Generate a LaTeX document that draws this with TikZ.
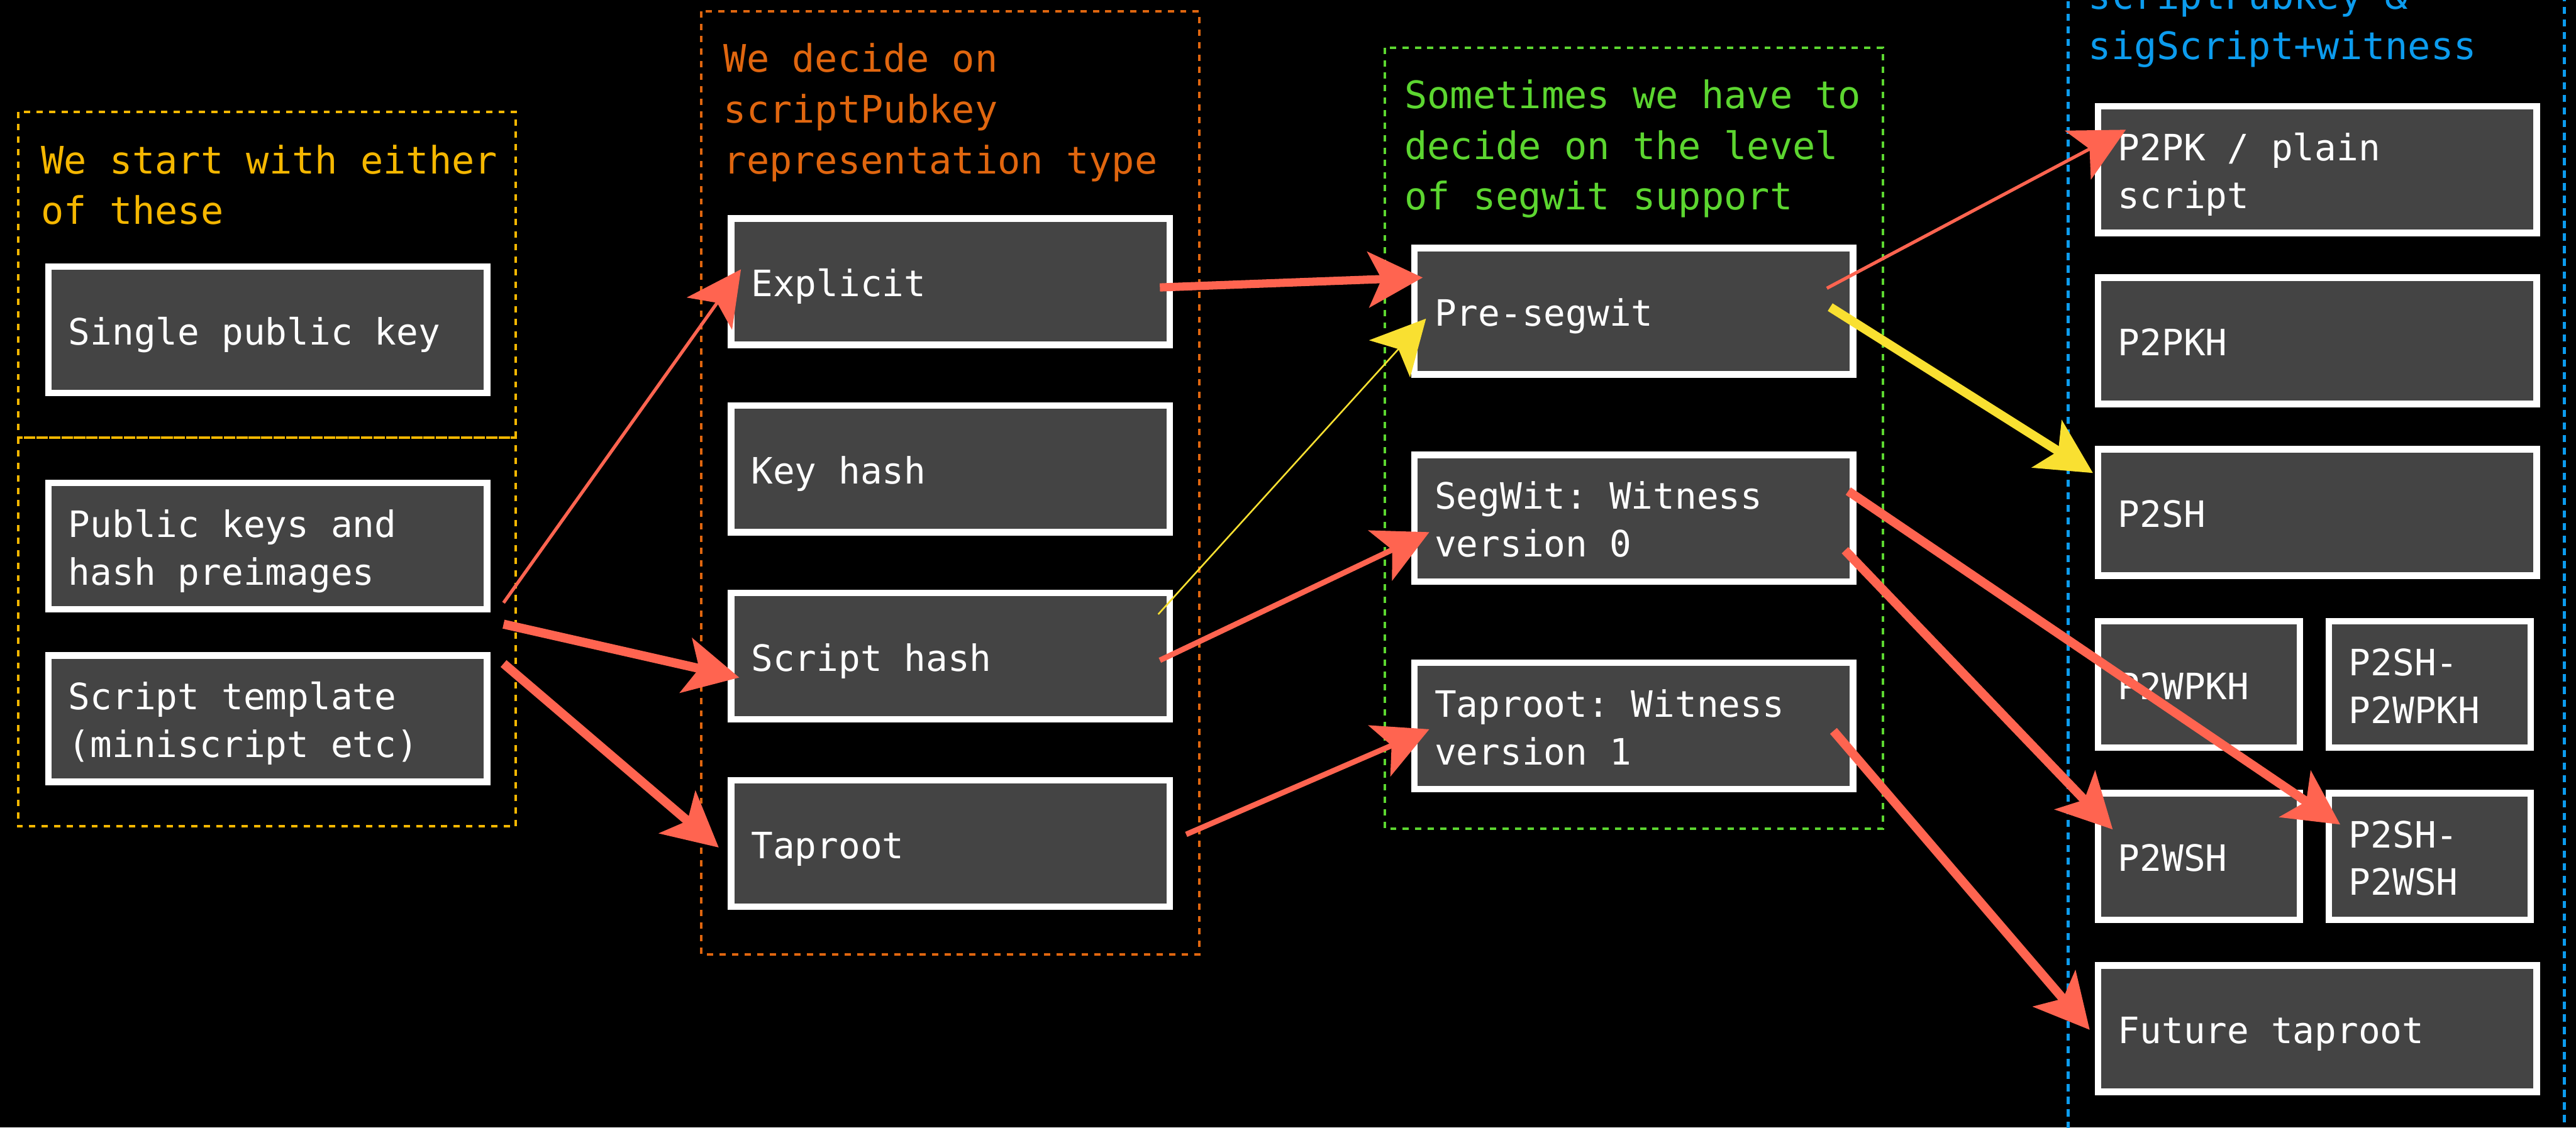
\documentclass[tikz,border=0pt]{standalone}
\usepackage{fontspec}
\setmonofont{DejaVu Sans Mono}
\usetikzlibrary{arrows.meta}
\definecolor{boxgray}{HTML}{444444}
\definecolor{arrred}{HTML}{FF6450}
\definecolor{arryel}{HTML}{F9E031}
\definecolor{gold}{HTML}{F5B700}
\definecolor{orng}{HTML}{E0660F}
\definecolor{grn}{HTML}{5CD630}
\definecolor{blu}{HTML}{0C9CEE}
\newcommand{\boxfont}{\ttfamily\fontsize{18.87pt}{24.75pt}\selectfont}
\newcommand{\titlefont}{\ttfamily\fontsize{19.7pt}{26.33pt}\selectfont}
\newcommand{\bt}[1]{\spaceskip=0pt\xspaceskip=0pt\relax\rule{0pt}{21.47pt}#1\rule[-6pt]{0pt}{6pt}}
\newcommand{\tts}{\rule{0pt}{19.7pt}}
\begin{document}
\begin{tikzpicture}[x=0.03cm,y=-0.03cm,
  box/.style={draw=white, line width=0.12cm, fill=boxgray, text=white, font=\boxfont,
    align=left, inner xsep=0.366cm, inner ysep=0pt, minimum height=2.31cm, text width=7.278cm},
  smallbox/.style={box, text width=2.958cm},
  ttl/.style={anchor=north west, inner sep=0pt, align=left, font=\titlefont},
  frame/.style={line width=0.045cm, dash pattern=on 0.114cm off 0.114cm},
  arr/.style={-{Stealth[length=0.99cm,width=1.01cm,inset=0.24cm]}},
  thickarr/.style={arr, line width=0.165cm},
  medarr/.style={arr, line width=0.1cm},
  thinarr/.style={arr, line width=0.06cm},
  hairarr/.style={arr, line width=0.03cm}
]
\fill[black] (0,0) rectangle (1568,686.55);
\useasboundingbox (0,0) rectangle (1568,686.55);
\clip (0,0) rectangle (1568,686.55);

% group frames
\draw[frame, gold] (11,68) rectangle (314,266.5);
\draw[frame, gold] (11,266.5) rectangle (314,503);
\draw[frame, orng] (427,6.8) rectangle (730,581);
\draw[frame, grn] (843,29) rectangle (1146,504.6);
\draw[frame, blu, line width=0.06cm, dash pattern=on 0.13cm off 0.1cm] (1259,-30) rectangle (1561,720);

% titles
\node[ttl, text=gold] (t1) at (24.7,82.4) {\tts We start with either\\of these};
\node[ttl, text=orng] (t2) at (440.3,20.7) {\tts We decide on\\scriptPubkey\\representation type};
\node[ttl, text=grn] (t3) at (854.7,42.8) {\tts Sometimes we have to\\decide on the level\\of segwit support};
\node[ttl, text=blu] (t4) at (1271,-17.8) {\tts scriptPubkey \&\\sigScript+witness};

% column 1
\node[box] (spk) at (163,200.75) {\bt{Single public key}};
\node[box] (pkh) at (163,332.5) {\bt{Public keys and\\hash preimages}};
\node[box] (st) at (163,437.5) {\bt{Script template\\(miniscript etc)}};

% column 2
\node[box] (expl) at (578.5,171.5) {\bt{Explicit}};
\node[box] (kh) at (578.5,285.5) {\bt{Key hash}};
\node[box] (sh) at (578.5,399.5) {\bt{Script hash}};
\node[box] (tap) at (578.5,513.5) {\bt{Taproot}};

% column 3
\node[box] (pre) at (994.5,189.5) {\bt{Pre-segwit}};
\node[box] (sw) at (994.5,315.5) {\bt{SegWit: Witness\\version 0}};
\node[box] (tw) at (994.5,442) {\bt{Taproot: Witness\\version 1}};

% column 4
\node[box] (p2pk) at (1410.5,103.3) {\bt{P2PK / plain\\script}};
\node[box] (p2pkh) at (1410.5,207.5) {\bt{P2PKH}};
\node[box] (p2sh) at (1410.5,312) {\bt{P2SH}};
\node[smallbox] (p2wpkh) at (1338.5,416.75) {\bt{P2WPKH}};
\node[smallbox] (p2shwpkh) at (1479,416.75) {\bt{P2SH-\\P2WPKH}};
\node[smallbox] (p2wsh) at (1338.5,521.5) {\bt{P2WSH}};
\node[smallbox] (p2shwsh) at (1479,521.5) {\bt{P2SH-\\P2WSH}};
\node[box] (fut) at (1410.5,626.25) {\bt{Future taproot}};

% connectors
\draw[thinarr, arrred] ([shift={(8,34.5)}]pkh.east) -- ([shift={(8,-7.5)}]expl.west);
\draw[thickarr, arrred] ([shift={(8,-57.5)}]st.east) -- ([shift={(7,13)}]sh.west);
\draw[thickarr, arrred] ([shift={(8,-33.5)}]st.east) -- ([shift={(-5.5,2.5)}]tap.west);
\draw[arr, arrred, line width=0.15cm] ([shift={(-8,3.5)}]expl.east) -- ([shift={(7,-20.5)}]pre.west);
\draw[hairarr, arryel] ([shift={(-9,-25.5)}]sh.east) -- ([shift={(9,4.5)}]pre.west);
\draw[medarr, arrred] ([shift={(-8,2.5)}]sh.east) -- ([shift={(11,8.5)}]sw.west);
\draw[medarr, arrred] ([shift={(8,-5.5)}]tap.east) -- ([shift={(11,2)}]tw.west);
\draw[thinarr, arrred] ([shift={(-18,-14)}]pre.east) -- ([shift={(19,-24.3)}]p2pk.west);
\draw[thickarr, arryel] ([shift={(-16,-2.5)}]pre.east) -- ([shift={(-1,-24)}]p2sh.west);
\draw[thickarr, arrred] ([shift={(-5,-16.5)}]sw.east) -- ([shift={(9,-19.5)}]p2shwsh.west);
\draw[thickarr, arrred] ([shift={(-7,19.5)}]sw.east) -- ([shift={(11,-16.5)}]p2wsh.west);
\draw[thickarr, arrred] ([shift={(-14,3)}]tw.east) -- ([shift={(-3,0.75)}]fut.west);
\end{tikzpicture}
\end{document}
